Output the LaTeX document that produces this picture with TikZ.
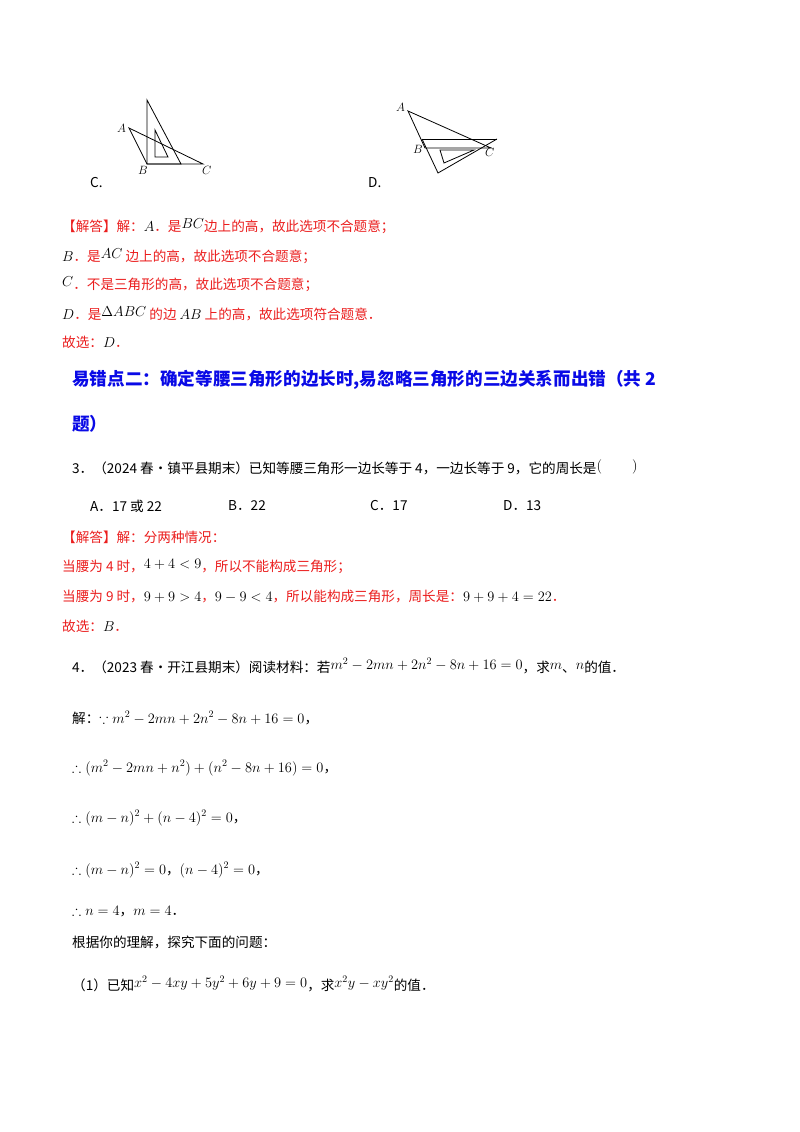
\documentclass[tikz,border=0pt]{standalone}
\usepackage{amssymb}
\usepackage{fontspec}
\setmainfont{Noto Sans CJK SC}
\definecolor{ansred}{RGB}{235,30,30}
\definecolor{hblue}{RGB}{10,10,230}
\tikzset{t/.style={anchor=west,inner sep=0pt,font=\fontsize{13.6}{15}\selectfont},
 r/.style={t,text=ansred}, fig/.style={line width=0.8pt}}
\newcommand{\up}[1]{\raisebox{3pt}{#1}}
\begin{document}
\begin{tikzpicture}[x=1pt,y=-1pt]
\useasboundingbox[fill=white] (0,0) rectangle (800,1132);
% figure C
\draw[fig] (147,100) -- (147,164) -- (181,164) -- cycle;
\draw[fig] (155,130) -- (155,157) -- (168,157) -- cycle;
\draw[fig] (129,128) -- (147,164) -- (203,164) -- cycle;
\node[t,font=\fontsize{12}{13}\selectfont] (la) at (117,128) {$A$};
\node[t,font=\fontsize{12}{13}\selectfont] (lb) at (138,170) {$B$};
\node[t,font=\fontsize{12}{13}\selectfont] (lc) at (202,170) {$C$};
\node[t] (oc) at (90,183) {C.};
% figure D
\draw[fig] (408,111) -- (425,148) -- (491,148) -- cycle;
\draw[fig] (422,139) -- (497,139);
\draw[fig] (422,139) -- (438,173) -- (497,139);
\draw[fig] (440,150) -- (444,163) -- (474,150) -- cycle;
\node[t,font=\fontsize{12}{13}\selectfont] (da) at (396,107) {$A$};
\node[t,font=\fontsize{12}{13}\selectfont] (db) at (413,149) {$B$};
\node[t,font=\fontsize{12}{13}\selectfont] (dc) at (485,152) {$C$};
\node[t] (od) at (368,183) {D.};
% answer 1
\node[r] (a1) at (62,226) {【解答】解：\textcolor{black}{$A$}．是\textcolor{black}{\up{$BC$}}边上的高，故此选项不合题意；};
\node[r] (a2) at (62,256) {\textcolor{black}{$B$}．是\textcolor{black}{\up{$AC$}} 边上的高，故此选项不合题意；};
\node[r] (a3) at (62,284) {\textcolor{black}{\up{$C$}}．不是三角形的高，故此选项不合题意；};
\node[r] (a4) at (62,314) {\textcolor{black}{$D$}．是\textcolor{black}{\up{$\Delta ABC$}} 的边 \textcolor{black}{$AB$} 上的高，故此选项符合题意．};
\node[r] (a5) at (62,342) {故选：\textcolor{black}{$D$}．};
% heading
\node[t,text=hblue,font=\fontsize{17.6}{19}\selectfont\bfseries] (h1) at (72,380) {易错点二：确定等腰三角形的边长时,易忽略三角形的三边关系而出错（共 2};
\node[t,text=hblue,font=\fontsize{17.6}{19}\selectfont\bfseries] (h2) at (72,424) {题）};
% question 3
\node[t] (q3) at (72,467) {3．（2024 春•镇平县期末）已知等腰三角形一边长等于 4，一边长等于 9，它的周长是\up{$($\hspace{30pt}$)$}};
\node[t] (o1) at (90,506) {A．17 或 22};
\node[t] (o2) at (228,506) {B．22};
\node[t] (o3) at (370,506) {C．17};
\node[t] (o4) at (503,506) {D．13};
\node[r] (b1) at (62,537) {【解答】解：分两种情况：};
\node[r] (b2) at (62,566) {当腰为 4 时，\textcolor{black}{\up{$4+4<9$}}，所以不能构成三角形；};
\node[r] (b3) at (62,596) {当腰为 9 时，\textcolor{black}{$9+9>4$}，\textcolor{black}{$9-9<4$}，所以能构成三角形，周长是：\textcolor{black}{$9+9+4=22$}．};
\node[r] (b4) at (62,626) {故选：\textcolor{black}{$B$}．};
% question 4
\node[t] (q4) at (72,666) {4．（2023 春•开江县期末）阅读材料：若\up{$m^2-2mn+2n^2-8n+16=0$}，求\up{$m$}、\up{$n$}的值．};
\node[t] (s1) at (72,718) {解：$\because m^2-2mn+2n^2-8n+16=0$，};
\node[t] (s2) at (72,768) {$\therefore(m^2-2mn+n^2)+(n^2-8n+16)=0$，};
\node[t] (s3) at (72,818) {$\therefore(m-n)^2+(n-4)^2=0$，};
\node[t] (s4) at (72,870) {$\therefore(m-n)^2=0$，$(n-4)^2=0$，};
\node[t] (s5) at (72,912) {$\therefore n=4$，$m=4$．};
\node[t] (s6) at (72,942) {根据你的理解，探究下面的问题：};
\node[t] (s7) at (72,984) {（1）已知\up{$x^2-4xy+5y^2+6y+9=0$}，求\up{$x^2y-xy^2$}的值．};
\end{tikzpicture}
\end{document}
